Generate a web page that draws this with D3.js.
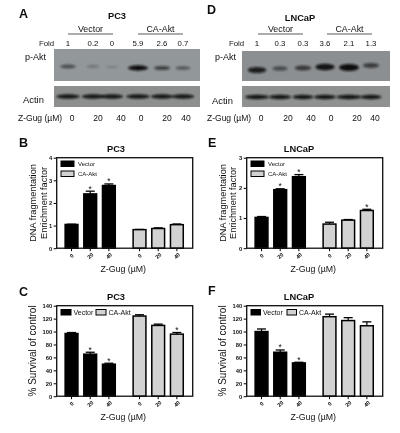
<!DOCTYPE html>
<html><head><meta charset="utf-8">
<script src="https://cdnjs.cloudflare.com/ajax/libs/d3/7.8.5/d3.min.js"></script>
<style>html,body{margin:0;padding:0;background:#fff}svg{display:block}text{font-family:"Liberation Sans",Arial,sans-serif;fill:#111}</style>
</head><body><svg id="c" width="400" height="433"></svg>
<script>
const doses = ["0","20","40"];
const groups = ["Vector","CA-Akt"];
const blotDoseLabels = ["0","20","40","0","20","40"];
const foldA = ["1","0.2","0","5.9","2.6","0.7"];
const foldD = ["1","0.3","0.3","3.6","2.1","1.3"];
const pAktA = [0.5,0.18,0.06,1,0.6,0.42];
const pAktD = [0.85,0.5,0.62,0.95,1,0.6];
const actinA = [0.95,0.9,0.9,0.95,0.9,0.9];
const actinD = [0.98,0.9,0.85,0.9,1,0.85];
const fragPC3Vector = [1.05,2.4,2.77], fragPC3Akt = [0.82,0.87,1.04];
const fragPC3VectorErr = [0.01,0.12,0.07], fragPC3AktErr = [0.01,0.03,0.03];
const fragPC3Stars = [false,true,true,false,false,false];
const fragLNVector = [1.02,1.94,2.37], fragLNAkt = [0.8,0.93,1.25];
const fragLNVectorErr = [0.03,0.03,0.07], fragLNAktErr = [0.06,0.02,0.04];
const fragLNStars = [false,true,true,false,false,true];
const survPC3Vector = [97,65,49.5], survPC3Akt = [124,109.5,96];
const survPC3VectorErr = [1.5,3,1.5], survPC3AktErr = [2,2,2.5];
const survPC3Stars = [false,true,true,false,false,true];
const survLNVector = [100,68,51.5], survLNAkt = [123,117,109];
const survLNVectorErr = [4,3.5,1], survLNAktErr = [4,4.5,6];
const survLNStars = [false,true,true,false,false,false];
const fragTicksPC3 = [0,1,2,3,4], fragTicksLN = [0,1,2,3];
const survTicks = [0,20,40,60,80,100,120,140];

const svg = d3.select("#c");
const defs = svg.append("defs");
const blur = (id,s)=>defs.append("filter").attr("id",id).attr("x","-30%").attr("y","-60%").attr("width","160%").attr("height","220%")
  .append("feGaussianBlur").attr("stdDeviation",s);
blur("soft",0.4); blur("band",1.1);
const root = svg.append("g").attr("filter","url(#soft)");
const txt=(x,y,s,size,opt={})=>root.append("text").attr("x",x).attr("y",y).attr("font-size",size)
  .attr("text-anchor",opt.anchor||"start").attr("font-weight",opt.bold?"bold":null)
  .attr("transform",opt.rot?`rotate(${opt.rot} ${x} ${y})`:null).text(s);

function blot(o){
  const xp = d3.scaleLinear().domain([0,1,2,3,4,5]).range(o.centers);
  const g = root.append("g");
  const w = d3.scaleLinear().domain([0,1]).range([9,18]);
  const h = d3.scaleLinear().domain([0,1]).range([1.5,o.maxH]);
  const a = d3.scaleLinear().domain([0,1]).range([0.1,1]);
  g.append("rect").attr("x",o.x0).attr("y",o.y1).attr("width",o.x1-o.x0).attr("height",o.h1).attr("fill",o.bg1);
  g.append("rect").attr("x",o.x0).attr("y",o.y2).attr("width",o.x1-o.x0).attr("height",o.h2).attr("fill",o.bg2);
  g.selectAll(".p").data(o.pakt).join("ellipse").attr("cx",(d,i)=>xp(i)).attr("cy",(d,i)=>o.bandY[i])
    .attr("rx",d=>w(d)/2+1).attr("ry",d=>h(d)/2+0.4).attr("fill","#111").attr("opacity",d=>a(d)).attr("filter","url(#band)");
  g.selectAll(".a").data(o.actin).join("ellipse").attr("cx",(d,i)=>xp(i)).attr("cy",(d,i)=>o.actinY)
    .attr("rx",d=>o.actW*d/2).attr("ry",2.2).attr("fill","#0c0c0c").attr("opacity",0.95).attr("filter","url(#band)");
  o.fold.forEach((s,i)=>txt(xp(i),o.foldY,s,7.8,{anchor:"middle"}));
  txt(o.foldX,o.foldY,"Fold",7.8,{anchor:"start"});
  txt(o.lab,o.plabY,"p-Akt",9); txt(o.actLab,o.actLabY,"Actin",9.4);
  txt(o.zx,o.zy,"Z-Gug  (µM)",8.5);
  blotDoseLabels.forEach((s,i)=>txt(o.doseX[i],o.zy,s,8.5,{anchor:"middle"}));
  groups.forEach((s,i)=>{
    const [a1,b1]=o.grp[i];
    txt((a1+b1)/2,o.grpY,s,8.9,{anchor:"middle"});
    root.append("line").attr("x1",a1).attr("x2",b1).attr("y1",o.grpY+2).attr("y2",o.grpY+2).attr("stroke","#333").attr("stroke-width",0.8);
  });
  txt(o.letterX,o.letterY,o.letter,12.5,{bold:true});
  txt(o.titleX,o.titleY,o.title,9.3,{bold:true,anchor:"middle"});
}
blot({letter:"A",letterX:19,letterY:18,title:"PC3",titleX:117,titleY:19,centers:[68,93,112,138,162,183],maxH:4.5,
 x0:54,x1:200,y1:49,h1:32,y2:86,h2:21,bg1:"#92979a",bg2:"#8d8f8f",fold:foldA,pakt:pAktA,actin:actinA,
 bandY:[66.5,66.5,67,68,68,68],actinY:96.5,actW:25,foldY:46,foldX:39,lab:25,plabY:60,actLab:23,actLabY:103,
 zx:18,zy:121,doseX:[72,98,121,141,167,186],grp:[[68,113],[138,183]],grpY:32});
blot({letter:"D",letterX:207,letterY:14,title:"LNCaP",titleX:300,titleY:21,centers:[257,280,303,325,349,371],maxH:6,
 x0:242,x1:390,y1:51,h1:30,y2:86,h2:21,bg1:"#8b8f92",bg2:"#8f9191",fold:foldD,pakt:pAktD,actin:actinD,
 bandY:[70,68.5,68,67,67.5,65.5],actinY:97,actW:25,foldY:46,foldX:229,lab:215,plabY:60,actLab:212,actLabY:104,
 zx:207,zy:121,doseX:[261,288,311,331,357,375],grp:[[258,303],[327,372]],grpY:32});

function bars(o){
  const m = {l:o.l,r:o.l+136,t:o.t,b:o.t+90.5};
  const g = root.append("g");
  const y = d3.scaleLinear().domain(o.domain).range([m.b,m.t]);
  const outer = d3.scaleBand().domain(groups).range([m.l+5.5,m.l+129.5]).paddingInner(0.176);
  const inner = d3.scaleBand().domain(doses).range([0,outer.bandwidth()]).paddingInner(0.25).paddingOuter(0.125);
  const series=[[groups[0],o.v1,o.e1,"#000"],[groups[1],o.v2,o.e2,"#d2d2d2"]];
  series.forEach(([name,vals,errs,fill],si)=>{
    const gg=g.append("g").attr("transform",`translate(${outer(name)},0)`);
    doses.forEach((d,i)=>{
      const cx=inner(d)+inner.bandwidth()/2;
      gg.append("line").attr("x1",cx).attr("x2",cx).attr("y1",y(vals[i])).attr("y2",y(vals[i]+errs[i])).attr("stroke","#000").attr("stroke-width",1.2);
      gg.append("line").attr("x1",cx-4.5).attr("x2",cx+4.5).attr("y1",y(vals[i]+errs[i])).attr("y2",y(vals[i]+errs[i])).attr("stroke","#000").attr("stroke-width",1.3);
      gg.append("rect").attr("x",inner(d)+0.6).attr("y",y(vals[i])).attr("width",inner.bandwidth()-1.2).attr("height",m.b-y(vals[i]))
        .attr("fill",fill).attr("stroke","#000").attr("stroke-width",1.5);
      if(o.stars[si*3+i]) gg.append("text").attr("x",cx).attr("y",y(vals[i]+errs[i])+0.5).attr("text-anchor","middle").attr("font-size",8.5).text("*");
      gg.append("line").attr("x1",cx).attr("x2",cx).attr("y1",m.b).attr("y2",m.b+3).attr("stroke","#000").attr("stroke-width",1);
      const lx=cx+1.5, ly=m.b+9;
      gg.append("text").attr("x",lx).attr("y",ly).attr("font-size",5.5).attr("font-weight","bold").attr("text-anchor","middle").attr("transform",`rotate(-45 ${lx} ${ly})`).text(d);
    });
  });
  const ax=d3.axisLeft(y).tickValues(o.ticks).tickSize(3).tickPadding(1.5).tickFormat(d3.format("d"));
  const ag=g.append("g").attr("transform",`translate(${m.l},0)`).call(ax);
  ag.select(".domain").remove();
  ag.selectAll("line").attr("stroke","#000").attr("stroke-width",1);
  ag.selectAll("text").attr("font-size",5.8).attr("font-weight","bold").attr("font-family","Liberation Sans");
  g.append("rect").attr("x",m.l).attr("y",m.t).attr("width",m.r-m.l).attr("height",m.b-m.t).attr("fill","none").attr("stroke","#111").attr("stroke-width",1.3);
  groups.forEach((s,i)=>{
    const [lx,ly]=o.leg[i];
    g.append("rect").attr("x",lx).attr("y",ly).attr("width",o.legW).attr("height",5.5).attr("fill",i?"#d2d2d2":"#000").attr("stroke","#000").attr("stroke-width",1);
    txt(lx+o.legW+o.legGap,ly+5.2,s,o.legSize);
  });
  txt(o.letterX,o.letterY,o.letter,12.5,{bold:true});
  txt(o.titleX,o.titleY,o.title,9.3,{bold:true,anchor:"middle"});
  txt(m.l+66.5,o.xlabY,"Z-Gug (µM)",8.8,{anchor:"middle"});
  o.ylab.forEach(([s,x])=>txt(x,m.t+(m.b-m.t)/2,s,o.ylabSize,{anchor:"middle",rot:-90}));
}
bars({letter:"B",letterX:19,letterY:147,title:"PC3",titleX:116,titleY:152,l:56.7,t:157.7,domain:[0,4],v1:fragPC3Vector,v2:fragPC3Akt,e1:fragPC3VectorErr,e2:fragPC3AktErr,stars:fragPC3Stars,ticks:fragTicksPC3,
 leg:[[61,161],[61,171]],legW:13,legGap:4,legSize:6,xlabY:272,ylab:[["DNA fragmentation",36],["Enrichment factor",47]],ylabSize:9.2});
bars({letter:"E",letterX:208,letterY:147,title:"LNCaP",titleX:299,titleY:152,l:246.7,t:157.7,domain:[0,3],v1:fragLNVector,v2:fragLNAkt,e1:fragLNVectorErr,e2:fragLNAktErr,stars:fragLNStars,ticks:fragTicksLN,
 leg:[[251,161],[251,171]],legW:13,legGap:4,legSize:6,xlabY:272,ylab:[["DNA fragmentation",226],["Enrichment factor",236]],ylabSize:9.2});
bars({letter:"C",letterX:19,letterY:296,title:"PC3",titleX:116,titleY:300,l:56.7,t:305.7,domain:[0,140],v1:survPC3Vector,v2:survPC3Akt,e1:survPC3VectorErr,e2:survPC3AktErr,stars:survPC3Stars,ticks:survTicks,
 leg:[[61,309.5],[96,309.5]],legW:10,legGap:2.5,legSize:7,xlabY:420,ylab:[["% Survival of control",36]],ylabSize:10});
bars({letter:"F",letterX:208,letterY:295,title:"LNCaP",titleX:299,titleY:300,l:246.7,t:305.7,domain:[0,140],v1:survLNVector,v2:survLNAkt,e1:survLNVectorErr,e2:survLNAktErr,stars:survLNStars,ticks:survTicks,
 leg:[[251,309.5],[287,309.5]],legW:9.5,legGap:2.5,legSize:7,xlabY:420,ylab:[["% Survival of control",226]],ylabSize:10});
</script></body></html>
